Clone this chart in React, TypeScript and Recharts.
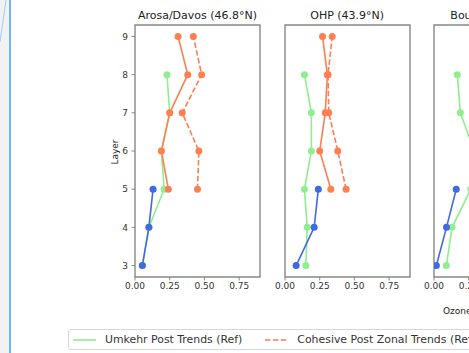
import React from "react";
import { LineChart, Line, XAxis, YAxis, ReferenceArea } from "recharts";

// Layers on the vertical axis
const LAYERS_LOW = [3, 4, 5];
const LAYERS_MID = [3, 4, 5, 6, 7, 8];
const LAYERS_HIGH = [5, 6, 7, 8, 9];

const X_TICKS = [0, 0.25, 0.5, 0.75];
const Y_TICKS = [3, 4, 5, 6, 7, 8, 9];
const X_DOMAIN: [number, number] = [0, 0.9];
const Y_DOMAIN: [number, number] = [2.7, 9.3];

const STATIONS = ["Arosa/Davos (46.8°N)", "OHP (43.9°N)", "Boulder (40.0°N)"];

// Umkehr post-period trends (reference), layers 3–8
const umkehrPostRef = [
  [0.053, 0.1, 0.21, 0.19, 0.25, 0.23],
  [0.15, 0.16, 0.14, 0.19, 0.19, 0.14],
  [0.089, 0.13, 0.265, 0.29, 0.19, 0.168],
];

// Cohesive post zonal trends (reference), layers 5–9
const cohesiveZonalRef = [
  [0.45, 0.46, 0.34, 0.48, 0.42],
  [0.44, 0.38, 0.315, 0.31, 0.34],
  [0.86, 0.66, 0.57, 0.72, 0.6],
];

// Cohesive post trends, layers 5–9
const cohesivePost = [
  [0.24, 0.19, 0.25, 0.38, 0.31],
  [0.33, 0.25, 0.29, 0.305, 0.27],
  [0.62, 0.48, 0.41, 0.5, 0.45],
];

// Umkehr pre-period trends, layers 3–5
const umkehrPre = [
  [0.053, 0.1, 0.13],
  [0.08, 0.21, 0.24],
  [0.017, 0.09, 0.16],
];

const SERIES = [
  { name: "Umkehr Post Trends (Ref)", values: umkehrPostRef, layers: LAYERS_MID, color: "#90EE90", dashed: false },
  { name: "Cohesive Post Zonal Trends (Ref)", values: cohesiveZonalRef, layers: LAYERS_HIGH, color: "#FF7F50", dashed: true },
  { name: "Cohesive Post Trends", values: cohesivePost, layers: LAYERS_HIGH, color: "#FF7F50", dashed: false },
  { name: "Umkehr Pre Trends", values: umkehrPre, layers: LAYERS_LOW, color: "#4169E1", dashed: false },
];

const FONT = "'DejaVu Sans', sans-serif";
const PLOT_LEFT = [135, 284.7, 434.3];
const PLOT_W = 125;
const SPINE = "#888";

function Panel({ index }: { index: number }) {
  return (
    <div style={{ position: "absolute", left: PLOT_LEFT[index] - 40, top: 0 }}>
      <LineChart width={175} height={310} margin={{ top: 25, right: 10, bottom: 3, left: 10 }}>
        <XAxis
          type="number"
          dataKey="trend"
          domain={X_DOMAIN}
          ticks={X_TICKS}
          interval={0}
          allowDataOverflow
          tickFormatter={(v: number) => v.toFixed(2)}
          height={30}
          tickSize={3.5}
          tickMargin={2.5}
          stroke={SPINE}
          axisLine={false}
          tick={{ fill: "#333", fontSize: 9, fontFamily: FONT }}
        />
        <YAxis
          type="number"
          domain={Y_DOMAIN}
          ticks={Y_TICKS}
          interval={0}
          allowDataOverflow
          width={30}
          tickSize={3.5}
          tickMargin={3.5}
          stroke={SPINE}
          axisLine={false}
          tick={index === 0 ? { fill: "#333", fontSize: 9, fontFamily: FONT } : false}
        />
        <ReferenceArea
          x1={X_DOMAIN[0]}
          x2={X_DOMAIN[1]}
          y1={Y_DOMAIN[0]}
          y2={Y_DOMAIN[1]}
          fill="none"
          fillOpacity={0}
          stroke={SPINE}
          strokeWidth={1.4}
          ifOverflow="visible"
        />
        {SERIES.map((s) => (
          <Line
            key={s.name}
            name={s.name}
            data={s.layers.map((layer, i) => ({ layer, trend: s.values[index][i] }))}
            dataKey="layer"
            type="linear"
            stroke={s.color}
            strokeWidth={1.6}
            strokeDasharray={s.dashed ? "5.5 2.4" : undefined}
            dot={{ r: 3.5, fill: s.color, stroke: s.color, strokeWidth: 0 }}
            activeDot={false}
            isAnimationActive={false}
          />
        ))}
      </LineChart>
      <div
        style={{
          position: "absolute",
          left: 40,
          width: PLOT_W,
          top: 9,
          textAlign: "center",
          fontSize: 11,
          lineHeight: "14px",
          color: "#222",
          whiteSpace: "nowrap",
          fontFamily: FONT,
        }}
      >
        {STATIONS[index]}
      </div>
    </div>
  );
}

function LegendBox() {
  return (
    <div
      style={{
        position: "absolute",
        left: 68,
        top: 329,
        height: 19,
        border: "1px solid #d6d6d6",
        borderRadius: 3,
        background: "#fff",
        display: "flex",
        alignItems: "center",
        paddingLeft: 4,
        paddingRight: 6,
        whiteSpace: "nowrap",
        fontFamily: FONT,
        fontSize: 10.9,
        color: "#333",
      }}
    >
      {SERIES.map((s) => (
        <div key={s.name} style={{ display: "flex", alignItems: "center", marginRight: 23 }}>
          <svg width={23} height={6} style={{ marginRight: 9 }}>
            <line
              x1={0}
              x2={23}
              y1={3}
              y2={3}
              stroke={s.color}
              strokeWidth={1.6}
              strokeDasharray={s.dashed ? "5.5 2.4" : undefined}
            />
          </svg>
          <span>{s.name}</span>
        </div>
      ))}
    </div>
  );
}

export default function App() {
  return (
    <div
      style={{
        position: "absolute",
        left: 0,
        top: 0,
        width: 469,
        height: 353,
        overflow: "hidden",
        background: "#fff",
      }}
    >
      <div style={{ position: "absolute", left: 0, top: 0, width: 9, height: 353, background: "#f2f2f2" }} />
      <div style={{ position: "absolute", left: 9, top: 0, width: 2, height: 353, background: "#72b6ee" }} />
      <svg style={{ position: "absolute", left: 0, top: 0 }} width={9} height={45}>
        <line x1={6} y1={0} x2={0} y2={42} stroke="#8cc4f2" strokeWidth={0.8} />
      </svg>
      {STATIONS.map((_, i) => (
        <Panel key={i} index={i} />
      ))}
      <div
        style={{
          position: "absolute",
          left: 115,
          top: 152,
          transform: "translate(-50%, -50%) rotate(-90deg)",
          fontSize: 9,
          color: "#222",
          fontFamily: FONT,
          whiteSpace: "nowrap",
        }}
      >
        Layer
      </div>
      <div
        style={{
          position: "absolute",
          left: 443,
          top: 306,
          fontSize: 9,
          color: "#222",
          fontFamily: FONT,
          whiteSpace: "nowrap",
        }}
      >
        Ozone Trend (%/decade)
      </div>
      <LegendBox />
    </div>
  );
}
